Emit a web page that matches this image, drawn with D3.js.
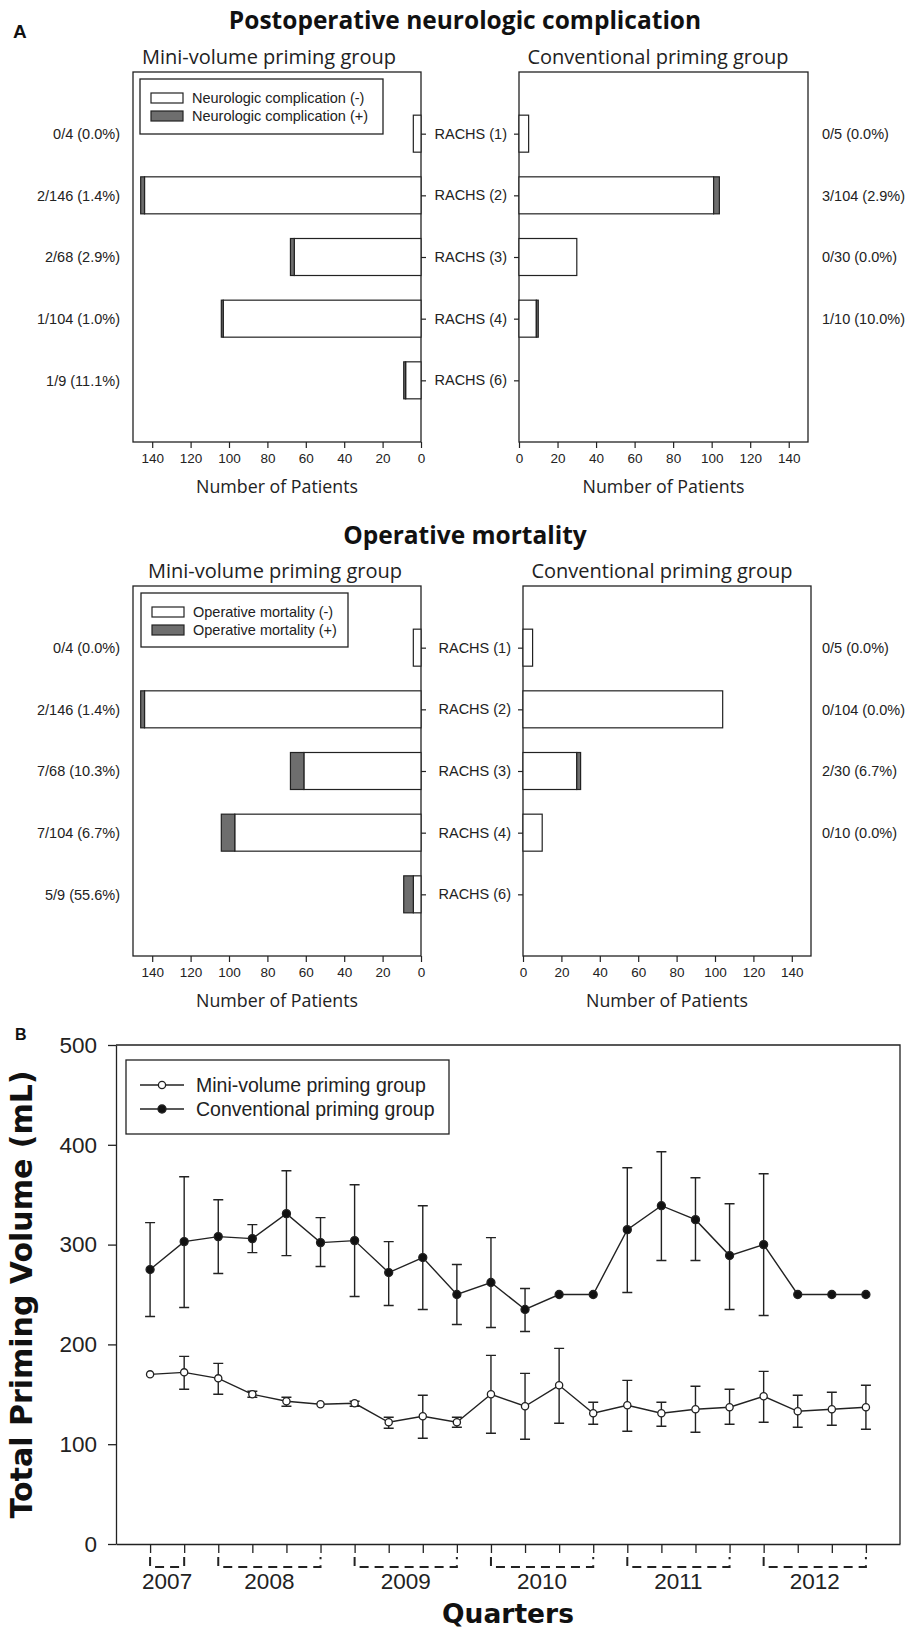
<!DOCTYPE html>
<html><head><meta charset="utf-8">
<script src="https://cdn.jsdelivr.net/npm/d3@7"></script>
<style>
body{margin:0;background:#fff;}
svg{display:block;}
</style></head>
<body>
<svg id="chart" width="909" height="1630"></svg>
<script>
// ---------- DATA ----------
const rachsCats = ["RACHS (1)","RACHS (2)","RACHS (3)","RACHS (4)","RACHS (6)"];
const barTicks = [0,20,40,60,80,100,120,140];

const neuroMiniTotal = [4,146,68,104,9];
const neuroMiniPos   = [0,2,2,1,1];
const neuroConvTotal = [5,104,30,10,0];
const neuroConvPos   = [0,3,0,1,0];

const mortMiniTotal = [4,146,68,104,9];
const mortMiniPos   = [0,2,7,7,5];
const mortConvTotal = [5,104,30,10,0];
const mortConvPos   = [0,0,2,0,0];

const quarters = d3.range(22);
const yearLabels = ["2007","2008","2009","2010","2011","2012"];
const yearStart  = [0,2,6,10,14,18];
const yearEnd    = [1,5,9,13,17,21];
const volTicks = [0,100,200,300,400,500];

const miniMean  = [170,172,166,150,143,140,141,122,128,122,150,138,159,131,139,131,135,137,148,133,135,137];
const miniUpper = [null,188,181,153,147,null,143,127,149,127,189,171,196,142,164,142,158,155,173,149,152,159];
const miniLower = [null,155,150,147,138,null,138,116,106,117,111,105,121,120,113,118,112,120,122,117,119,115];

const convMean  = [275,303,308,306,331,302,304,272,287,250,262,235,250,250,315,339,325,289,300,250,250,250];
const convUpper = [322,368,345,320,374,327,360,303,339,280,307,256,null,null,377,393,367,341,371,null,null,null];
const convLower = [228,237,271,292,289,278,248,239,235,220,217,213,null,null,252,284,284,235,229,null,null,null];

// ---------- STYLE ----------
const ARIAL = "'Liberation Sans', Arial, sans-serif";
const MYRIAD = "'Open Sans', 'Noto Sans', sans-serif";
const HEAVY = "'DejaVu Sans', sans-serif";
const INK = "#222";
const GRAY = "#6e6e6e";

const svg = d3.select("#chart");

function pctLabel(p, t){ return t ? `${p}/${t} (${(p/t*100).toFixed(1)}%)` : ""; }

function barPanel(cfg){
  const g = svg.append("g");
  const y = d3.scaleLinear().domain([0,6]).range([cfg.top, cfg.bottom]);
  const x = d3.scaleLinear().domain([0,150]).range(cfg.side==="left" ? [cfg.right, cfg.left] : [cfg.left, cfg.right]);
  const bh = y(0.6) - y(0);
  const zeroX = x(0);

  g.append("rect").attr("x", cfg.left).attr("y", cfg.top)
    .attr("width", cfg.right-cfg.left).attr("height", cfg.bottom-cfg.top)
    .attr("fill","none").attr("stroke",INK).attr("stroke-width",1.3);

  cfg.totals.forEach((t,i)=>{
    if(!t) return;
    const neg = t - cfg.pos[i];
    const cy = y(i+1);
    const x0 = x(0), x1 = x(neg), x2 = x(t);
    g.append("rect").attr("x", Math.min(x0,x1)).attr("y", cy-bh/2)
      .attr("width", Math.abs(x1-x0)).attr("height", bh)
      .attr("fill","#fff").attr("stroke",INK).attr("stroke-width",1.2);
    if(cfg.pos[i] > 0){
      g.append("rect").attr("x", Math.min(x1,x2)).attr("y", cy-bh/2)
        .attr("width", Math.abs(x2-x1)).attr("height", bh)
        .attr("fill",GRAY).attr("stroke",INK).attr("stroke-width",1.2);
    }
  });

  const xa = g.append("g").attr("transform",`translate(0,${cfg.bottom})`)
    .call(d3.axisBottom(x).tickValues(barTicks).tickSize(6).tickSizeOuter(0).tickPadding(5));
  xa.select(".domain").remove();
  xa.selectAll("line").attr("stroke",INK).attr("stroke-width",1.2);
  xa.selectAll("text").attr("font-family",ARIAL).attr("font-size","13.5px").attr("fill",INK);

  const ya = g.append("g").attr("transform",`translate(${zeroX},0)`)
    .call((cfg.side==="left" ? d3.axisRight(y) : d3.axisLeft(y))
      .tickValues([1,2,3,4,5]).tickSize(5).tickSizeOuter(0).tickPadding(7)
      .tickFormat(cfg.side==="left" ? ()=>"" : (d)=>rachsCats[d-1]));
  ya.select(".domain").remove();
  ya.selectAll("line").attr("stroke",INK).attr("stroke-width",1.2);
  ya.selectAll("text").attr("font-family",ARIAL).attr("font-size","14.5px").attr("fill",INK);

  cfg.totals.forEach((t,i)=>{
    if(!t) return;
    g.append("text").attr("x", cfg.labelX).attr("y", y(i+1)).attr("dy","0.36em")
      .attr("text-anchor", cfg.side==="left" ? "end" : "start")
      .attr("font-family",ARIAL).attr("font-size","14.5px").attr("fill",INK)
      .text(pctLabel(cfg.pos[i], t));
  });

  g.append("text").attr("x", cfg.subX).attr("y", cfg.top-8)
    .attr("text-anchor","middle").attr("font-family",MYRIAD).attr("font-size","20px").attr("fill",INK)
    .text(cfg.subtitle);

  g.append("text").attr("x", (cfg.left+cfg.right)/2).attr("y", cfg.bottom+51)
    .attr("text-anchor","middle").attr("font-family",MYRIAD).attr("font-size","17.8px").attr("fill",INK)
    .text("Number of Patients");

  if(cfg.legend){
    const L = cfg.legend;
    g.append("rect").attr("x",L.x).attr("y",L.y).attr("width",L.w).attr("height",L.h)
      .attr("fill","#fff").attr("stroke",INK).attr("stroke-width",1.3);
    L.items.forEach((it,k)=>{
      const ry = L.y + 19 + k*18;
      g.append("rect").attr("x",L.x+11).attr("y",ry-5).attr("width",32).attr("height",10)
        .attr("fill", k===0 ? "#fff" : GRAY).attr("stroke",INK).attr("stroke-width",1.2);
      g.append("text").attr("x",L.x+52).attr("y",ry).attr("dy","0.36em")
        .attr("font-family",ARIAL).attr("font-size","14.5px").attr("fill",INK).text(it);
    });
  }
}

// ---------- PANEL A ----------
svg.append("text").attr("x",13).attr("y",38).attr("font-family",ARIAL).attr("font-weight","bold")
  .attr("font-size","19px").attr("fill","#111").text("A");

svg.append("text").attr("x",465).attr("y",29).attr("text-anchor","middle")
  .attr("font-family",MYRIAD).attr("font-weight","bold").attr("font-size","24.5px").attr("fill","#111")
  .text("Postoperative neurologic complication");

barPanel({side:"left", left:133, right:421, top:72, bottom:442, totals:neuroMiniTotal, pos:neuroMiniPos,
  labelX:120, subtitle:"Mini-volume priming group", subX:269,
  legend:{x:140,y:79,w:243,h:55,items:["Neurologic complication (-)","Neurologic complication (+)"]}});
barPanel({side:"right", left:519, right:808, top:72, bottom:442, totals:neuroConvTotal, pos:neuroConvPos,
  labelX:822, subtitle:"Conventional priming group", subX:658});

svg.append("text").attr("x",465).attr("y",544).attr("text-anchor","middle")
  .attr("font-family",MYRIAD).attr("font-weight","bold").attr("font-size","24.5px").attr("fill","#111")
  .text("Operative mortality");

barPanel({side:"left", left:133, right:421, top:586, bottom:956, totals:mortMiniTotal, pos:mortMiniPos,
  labelX:120, subtitle:"Mini-volume priming group", subX:275,
  legend:{x:141,y:593,w:207,h:54,items:["Operative mortality (-)","Operative mortality (+)"]}});
barPanel({side:"right", left:523, right:811, top:586, bottom:956, totals:mortConvTotal, pos:mortConvPos,
  labelX:822, subtitle:"Conventional priming group", subX:662});

// ---------- PANEL B ----------
(function(){
  const g = svg.append("g");
  const L = 116, R = 900, T = 1045, B = 1544;
  const x = d3.scaleLinear().domain([-1,22]).range([L,R]);
  const y = d3.scaleLinear().domain([0,500]).range([B,T]);

  g.append("text").attr("x",15).attr("y",1040).attr("font-family",ARIAL).attr("font-weight","bold")
    .attr("font-size","16px").attr("fill","#111").text("B");

  g.append("path").attr("d",`M${L},${T}H${R}V${B}`).attr("fill","none").attr("stroke",INK).attr("stroke-width",1.3);

  const ya = g.append("g").attr("transform",`translate(${L},0)`)
    .call(d3.axisLeft(y).tickValues(volTicks).tickSize(8).tickSizeOuter(0).tickPadding(11));
  ya.select(".domain").attr("stroke",INK).attr("stroke-width",1.3);
  ya.selectAll("line").attr("stroke",INK).attr("stroke-width",1.3);
  ya.selectAll("text").attr("font-family",ARIAL).attr("font-size","22.5px").attr("fill",INK);

  const xa = g.append("g").attr("transform",`translate(0,${B})`)
    .call(d3.axisBottom(x).tickValues(quarters).tickSize(9).tickSizeOuter(0).tickFormat(()=>""));
  xa.select(".domain").attr("stroke",INK).attr("stroke-width",1.3);
  xa.selectAll("line").attr("stroke",INK).attr("stroke-width",1.3);

  yearLabels.forEach((yl,k)=>{
    const x0 = x(yearStart[k]), x1 = x(yearEnd[k]);
    g.append("path").attr("d",`M${x0},${B+13}V${B+23}H${x1}V${B+13}`)
      .attr("fill","none").attr("stroke",INK).attr("stroke-width",2).attr("stroke-dasharray","9,6");
    g.append("text").attr("x",(x0+x1)/2).attr("y",B+45).attr("text-anchor","middle")
      .attr("font-family",ARIAL).attr("font-size","22.5px").attr("fill",INK).text(yl);
  });

  g.append("text").attr("x",(L+R)/2).attr("y",1623).attr("text-anchor","middle")
    .attr("font-family",HEAVY).attr("font-weight","bold").attr("font-size","26.5px").attr("fill","#111")
    .text("Quarters");
  g.append("text").attr("transform",`translate(32,${(T+B)/2}) rotate(-90)`).attr("text-anchor","middle")
    .attr("font-family",HEAVY).attr("font-weight","bold").attr("font-size","30px").attr("fill","#111")
    .text("Total Priming Volume (mL)");

  function series(mean, up, lo, filled, r){
    const line = d3.line().x((d,i)=>x(i)).y(d=>y(d));
    g.append("path").datum(mean).attr("d",line).attr("fill","none").attr("stroke",INK).attr("stroke-width",1.4);
    mean.forEach((m,i)=>{
      if(up[i]==null) return;
      const cx = x(i);
      g.append("path").attr("d",`M${cx},${y(lo[i])}V${y(up[i])}M${cx-5},${y(up[i])}H${cx+5}M${cx-5},${y(lo[i])}H${cx+5}`)
        .attr("fill","none").attr("stroke",INK).attr("stroke-width",1.4);
    });
    g.selectAll(null).data(mean).enter().append("circle")
      .attr("cx",(d,i)=>x(i)).attr("cy",d=>y(d)).attr("r",r)
      .attr("fill", filled ? "#111" : "#fff").attr("stroke",INK).attr("stroke-width",1.3);
  }
  series(convMean, convUpper, convLower, true, 4);
  series(miniMean, miniUpper, miniLower, false, 3.6);

  const lg = g.append("g");
  lg.append("rect").attr("x",126).attr("y",1060).attr("width",323).attr("height",74)
    .attr("fill","#fff").attr("stroke",INK).attr("stroke-width",1.3);
  [["Mini-volume priming group",false],["Conventional priming group",true]].forEach(([t,f],k)=>{
    const ry = 1085 + k*24;
    lg.append("line").attr("x1",140).attr("x2",184).attr("y1",ry).attr("y2",ry).attr("stroke",INK).attr("stroke-width",1.4);
    lg.append("circle").attr("cx",162).attr("cy",ry).attr("r",f?4:3.6).attr("fill",f?"#111":"#fff").attr("stroke",INK).attr("stroke-width",1.3);
    lg.append("text").attr("x",196).attr("y",ry).attr("dy","0.36em").attr("font-family",ARIAL)
      .attr("font-size","19.5px").attr("fill",INK).text(t);
  });
})();
</script>
</body></html>
